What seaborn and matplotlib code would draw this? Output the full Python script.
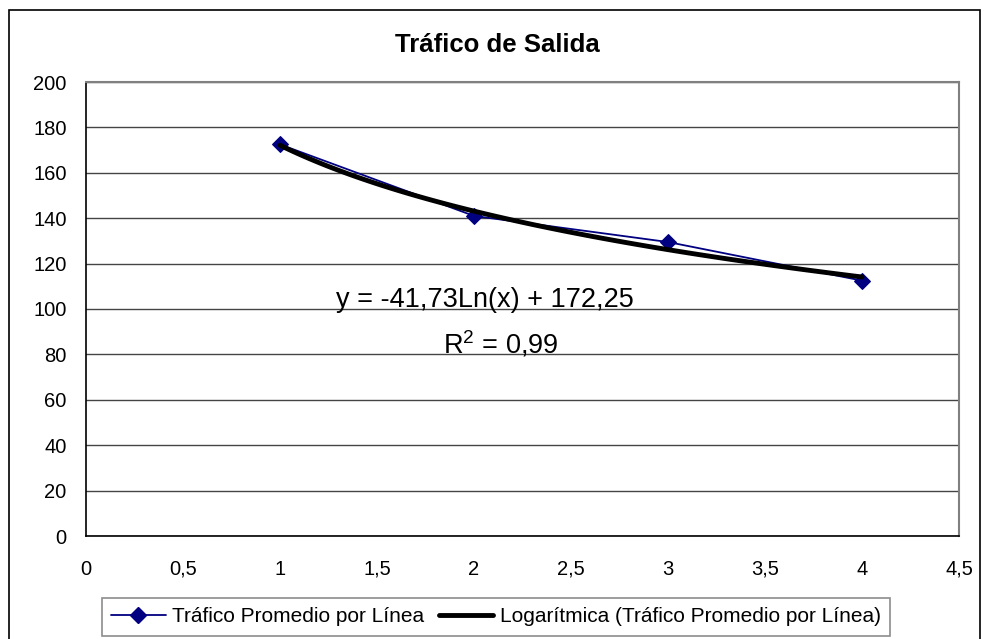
import numpy as np
import pandas as pd
import seaborn as sns
import matplotlib.pyplot as plt
from matplotlib.lines import Line2D
from matplotlib.patches import Rectangle
from matplotlib.ticker import FuncFormatter

# values
x_vals = [1, 2, 3, 4]
trafico = [172.5, 141.0, 129.5, 112.5]
y_ticks = list(range(0, 201, 20))
x_ticks = [0, 0.5, 1, 1.5, 2, 2.5, 3, 3.5, 4, 4.5]
serie_label = "Tráfico Promedio por Línea"
trend_label = "Logarítmica (Tráfico Promedio por Línea)"
eq_text = "y = -41,73Ln(x) + 172,25"
r2_text = r"R$^2$ = 0,99"

df = pd.DataFrame({"x": x_vals, "trafico": trafico})

sns.set_style("white")
plt.rcParams['font.family'] = ['Liberation Sans', 'DejaVu Sans']
plt.rcParams['text.color'] = 'black'
plt.rcParams['mathtext.fontset'] = 'custom'
plt.rcParams['mathtext.rm'] = 'Liberation Sans'

fig = plt.figure(figsize=(9.84, 6.39), dpi=100)
ax = fig.add_axes([86/984, 1-536/639, (959-86)/984, (536-82)/639])

sns.lineplot(data=df, x="x", y="trafico", ax=ax, color="#000080", lw=1.3,
             marker="D", markersize=8, markeredgecolor="#000080", zorder=3)
sns.regplot(data=df, x="x", y="trafico", logx=True, ci=None, scatter=False, ax=ax,
            line_kws={"color": "black", "lw": 3.5, "zorder": 4})

ax.set_xlim(0, 4.5)
ax.set_ylim(0, 200)
ax.set_xticks(x_ticks)
ax.set_yticks(y_ticks)
fmt = FuncFormatter(lambda v, p: f"{v:g}".replace(".", ","))
ax.xaxis.set_major_formatter(fmt)
ax.yaxis.set_major_formatter(fmt)
ax.tick_params(axis="both", labelsize=14.5, length=5, width=1, direction="out",
               colors="black")
ax.tick_params(axis="y", pad=9)
ax.tick_params(axis="x", pad=12)
ax.yaxis.grid(True, color="#444444", lw=1)
ax.set_axisbelow(True)
ax.set_xlabel("")
ax.set_ylabel("")
for s in ["top", "right"]:
    ax.spines[s].set_color("#808080")
    ax.spines[s].set_linewidth(1.5)
for s in ["left", "bottom"]:
    ax.spines[s].set_color("black")
    ax.spines[s].set_linewidth(1.2)

fig.text(497/984, 1-45/639, "Tráfico de Salida", fontsize=18.5, fontweight="bold",
         ha="center", va="center", color="black")

ax.text(2.057, 100.8, eq_text, fontsize=19.5, ha="center", va="baseline", color="black")
ax.text(2.14, 80.6, r2_text, fontsize=19.5, ha="center", va="baseline", color="black")

handles = [
    Line2D([], [], color="#000080", lw=1.3, marker="D", markersize=8),
    Line2D([], [], color="black", lw=3.5),
]
leg = fig.legend(handles, [serie_label, trend_label], loc="upper center",
                 bbox_to_anchor=(496/984, 1-598/639), ncol=2, fontsize=15,
                 frameon=True, fancybox=False, edgecolor="#707070",
                 handlelength=2.6, handletextpad=0.33, columnspacing=0.67,
                 borderpad=0.45, borderaxespad=0)
leg.get_frame().set_linewidth(1.2)
for t in leg.get_texts():
    t.set_color("black")

fig.patches.append(Rectangle((9/984, -0.02), (980-9)/984, 1-10/639+0.02,
                             transform=fig.transFigure, fill=False,
                             edgecolor="black", lw=1.2))

fig.savefig("out.png", dpi=100)
